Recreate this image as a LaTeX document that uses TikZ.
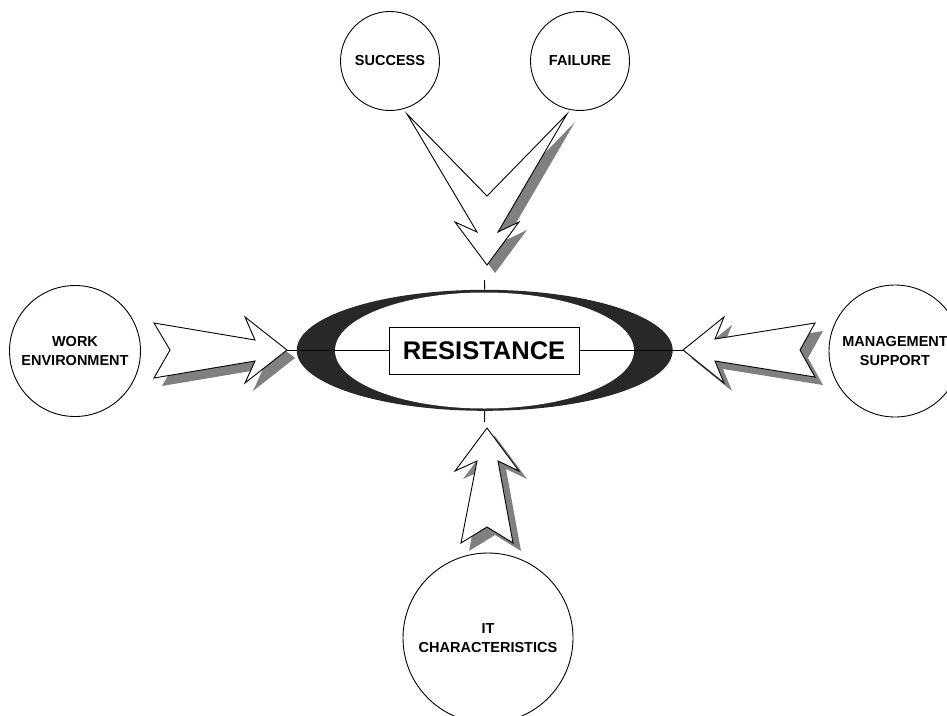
\documentclass[tikz,border=0pt]{standalone}
\usepackage{fontspec}
\setmainfont{Liberation Sans}
\usetikzlibrary{shapes.geometric}
\definecolor{shadowgray}{HTML}{808080}
\definecolor{ringdark}{HTML}{282828}
\begin{document}
\begin{tikzpicture}[x=1pt,y=-1pt,
  blk/.style={draw=black, fill=white, line width=0.9pt, line join=miter, miter limit=20},
  shd/.style={fill=shadowgray, draw=none},
  lbl/.style={circle, draw=black, fill=white, line width=0.9pt, align=center, inner sep=0pt,
              font=\bfseries\fontsize{14.5}{18.5}\selectfont},
  thinline/.style={draw=black, line width=0.9pt}]
\path[use as bounding box] (0,0) rectangle (947,715);
\clip (0,0) rectangle (947,715);
\fill[white] (0,0) rectangle (947,715);

% circles
\node[lbl, minimum size=99] (succ) at (390,61) {SUCCESS};
\node[lbl, minimum size=99] (fail) at (580,61) {FAILURE};
\node[lbl, minimum size=131] (work) at (75,351) {WORK\\ENVIRONMENT};
\node[lbl, minimum size=132] (mgmt) at (895,351) {MANAGEMENT\\SUPPORT};
\node[lbl, minimum size=170] (itc) at (488,638) {IT\\CHARACTERISTICS};

% arrow shapes
\def\arrL{(154,323) -- (255,340) -- (245,317) -- (287,350) -- (245,383) -- (255,361) -- (154,378) -- (170,350) -- cycle}
\def\arrR{(683,350) -- (724,317) -- (715,339) -- (815,323) -- (800,350) -- (815,377) -- (715,361) -- (724,383) -- cycle}
\def\arrB{(487,428) -- (519,471) -- (498,461) -- (513,543) -- (487,527) -- (461,543) -- (477,461) -- (455,471) -- cycle}
\def\arrT{(407,114) -- (487,196) -- (567,114) -- (498,232) -- (519,222) -- (487,265) -- (455,222) -- (477,232) -- cycle}

\begin{scope}[shift={(8,8)}]
  \fill[shd] \arrL;
  \fill[shd] \arrR;
  \fill[shd] \arrB;
  \fill[shd] \arrT;
\end{scope}
\path[blk] \arrL;
\path[blk] \arrR;
\path[blk] \arrB;
\path[blk] \arrT;

% central ring
\node[ellipse, fill=ringdark, minimum width=376, minimum height=121, inner sep=0pt] (ring) at (484.7,350.3) {};
\node[ellipse, fill=white, minimum width=299, minimum height=116, inner sep=0pt] (hole) at (484.5,350.5) {};

% axis lines
\coordinate (lt) at (287,350);
\coordinate (rt) at (683,350);
\coordinate (tt) at (484.5,280);
\coordinate (bt) at (484.5,422);
\draw[thinline] (lt) -- (rt);
\draw[thinline] (tt) -- (ring.north);
\draw[thinline] (ring.south) -- (bt);

\node[draw=black, fill=white, line width=0.9pt, minimum width=190, minimum height=47, inner sep=0pt,
      font=\bfseries\fontsize{25.5}{30}\selectfont] (res) at (484,350.5) {RESISTANCE};
\end{tikzpicture}
\end{document}
